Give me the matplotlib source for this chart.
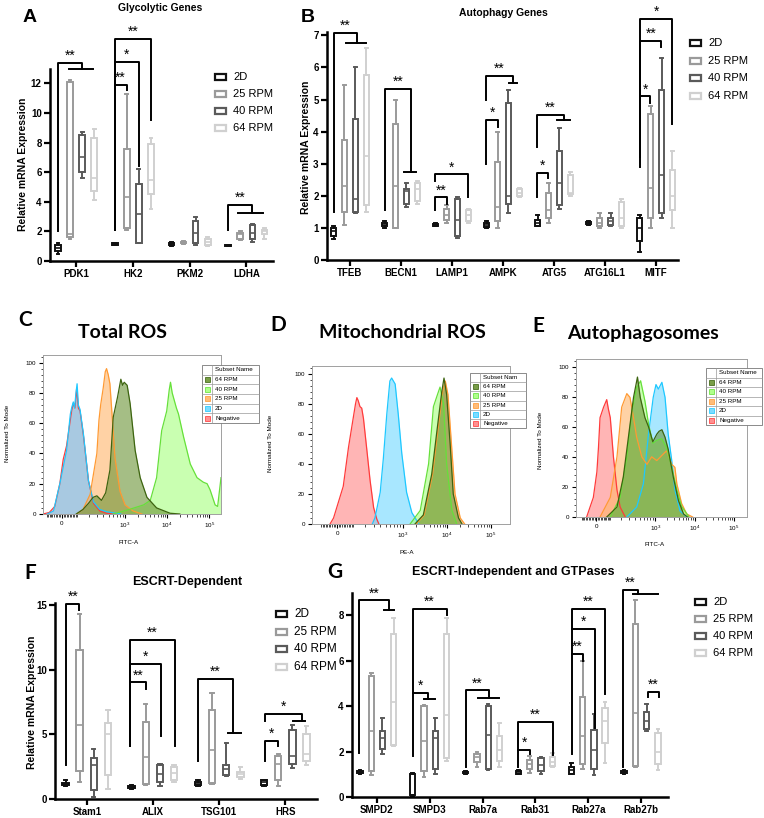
import numpy as np
import matplotlib
matplotlib.use('Agg')
import matplotlib.pyplot as plt
from matplotlib.patches import Rectangle
from matplotlib.ticker import MultipleLocator, FixedLocator

plt.rcParams['font.family'] = ['Liberation Sans', 'DejaVu Sans']
plt.rcParams['mathtext.default'] = 'regular'

# ---------------- data ----------------
group_labels = ['2D', '25 RPM', '40 RPM', '64 RPM']

# box stats: (whisker low, q1, median, q3, whisker high)
a_genes = ['PDK1', 'HK2', 'PKM2', 'LDHA']
a_2d = [(0.5, 0.65, 0.85, 1.1, 1.2), (1.05, 1.1, 1.15, 1.2, 1.25), (1.0, 1.1, 1.2, 1.25, 1.3), (1.0, 1.02, 1.05, 1.08, 1.1)]
a_25 = [(1.5, 1.6, 1.85, 12.1, 12.2), (2.1, 2.2, 4.3, 7.6, 11.3), (1.15, 1.2, 1.25, 1.3, 1.35), (1.4, 1.5, 1.8, 1.9, 2.0)]
a_40 = [(5.6, 6.0, 7.0, 8.5, 8.7), (1.2, 1.2, 3.2, 5.2, 6.2), (1.1, 1.2, 1.9, 2.7, 2.95), (1.3, 1.5, 1.9, 2.4, 2.5)]
a_64 = [(4.1, 4.7, 5.6, 8.3, 8.9), (3.5, 4.5, 5.5, 7.9, 8.3), (1.0, 1.1, 1.3, 1.5, 1.6), (1.5, 1.8, 2.0, 2.1, 2.2)]
# brackets: gene, x left, x right, y left, y top, y right, label, group bar
a_sig = [(0, -0.32, 0.10, 2.0, 13.4, 12.95, '**', (-0.12, 0.30)),
         (1, -0.32, -0.11, 2.1, 11.9, 11.55, '**', None),
         (1, -0.32, 0.11, 2.1, 13.45, 6.4, '*', None),
         (1, -0.32, 0.32, 2.1, 15.0, 9.5, '**', None),
         (3, -0.32, 0.10, 2.1, 3.8, 3.25, '**', (-0.14, 0.30))]

b_genes = ['TFEB', 'BECN1', 'LAMP1', 'AMPK', 'ATG5', 'ATG16L1', 'MITF']
b_2d = [(0.65, 0.75, 0.9, 1.0, 1.05), (1.0, 1.05, 1.1, 1.15, 1.2), (1.05, 1.07, 1.1, 1.12, 1.15),
        (1.0, 1.02, 1.1, 1.15, 1.2), (1.05, 1.05, 1.15, 1.25, 1.4), (1.1, 1.12, 1.15, 1.18, 1.2),
        (0.25, 0.6, 1.0, 1.3, 1.4)]
b_25 = [(1.1, 1.5, 2.3, 3.75, 5.45), (1.0, 1.0, 2.3, 4.25, 5.0), (1.15, 1.25, 1.4, 1.6, 1.7),
        (1.0, 1.2, 1.65, 3.05, 4.0), (1.15, 1.3, 1.55, 2.1, 2.4), (1.0, 1.05, 1.15, 1.3, 1.45),
        (1.0, 1.3, 2.25, 4.55, 4.8)]
b_40 = [(1.45, 1.5, 1.9, 4.4, 6.0), (1.65, 1.75, 2.15, 2.2, 2.4), (0.7, 0.75, 1.25, 1.9, 1.95),
        (1.45, 1.75, 2.0, 4.9, 5.3), (1.6, 1.7, 2.4, 3.4, 4.1), (1.05, 1.1, 1.2, 1.3, 1.45),
        (1.3, 1.45, 2.65, 5.3, 6.3)]
b_64 = [(1.5, 1.7, 3.25, 5.75, 6.6), (1.75, 1.85, 2.2, 2.4, 2.45), (1.15, 1.2, 1.4, 1.55, 1.6),
        (1.95, 2.0, 2.1, 2.2, 2.25), (2.0, 2.05, 2.1, 2.65, 2.75), (1.0, 1.05, 1.3, 1.8, 1.9),
        (1.0, 1.55, 2.0, 2.8, 3.4)]
b_sig = [(0, -0.31, 0.13, 1.5, 7.08, 6.76, '**', (-0.08, 0.31)),
         (1, -0.31, 0.19, 1.55, 5.34, 2.73, '**', (0.06, 0.29)),
         (2, -0.33, -0.10, 1.56, 1.95, 1.74, '**', None),
         (2, -0.33, 0.31, 2.45, 2.67, 1.97, '*', None),
         (3, -0.33, -0.10, 3.0, 4.36, 4.15, '*', None),
         (3, -0.33, 0.20, 5.0, 5.73, 5.5, '**', (0.12, 0.27)),
         (4, -0.34, -0.12, 1.97, 2.72, 2.54, '*', None),
         (4, -0.34, 0.20, 3.53, 4.53, 4.36, '**', (0.06, 0.31)),
         (6, -0.31, -0.12, 2.9, 5.1, 4.9, '*', None),
         (6, -0.31, 0.10, 3.2, 6.83, 6.62, '**', None),
         (6, -0.31, 0.31, 4.3, 7.52, 4.25, '*', None)]

f_genes = ['Stam1', 'ALIX', 'TSG101', 'HRS']
f_2d = [(1.0, 1.05, 1.15, 1.25, 1.5), (0.8, 0.85, 0.95, 1.0, 1.05), (1.0, 1.05, 1.15, 1.3, 1.5), (1.0, 1.1, 1.3, 1.45, 1.5)]
f_25 = [(1.35, 2.15, 5.75, 11.5, 14.3), (1.1, 1.15, 3.25, 5.95, 7.3), (1.15, 1.2, 3.8, 6.85, 8.2), (1.0, 1.5, 2.7, 3.35, 3.45)]
f_40 = [(0.15, 0.7, 2.6, 3.15, 3.85), (1.0, 1.35, 1.9, 2.6, 2.7), (1.75, 1.85, 2.3, 2.65, 4.35), (2.4, 2.7, 3.3, 5.3, 5.75)]
f_64 = [(0.8, 1.85, 5.0, 5.9, 6.9), (1.3, 1.45, 2.0, 2.5, 2.6), (1.55, 1.7, 1.95, 2.1, 2.5), (2.6, 2.9, 3.5, 5.0, 5.6)]
f_sig = [(0, -0.31, -0.11, 2.65, 15.05, 14.56, '**', None),
         (1, -0.35, -0.10, 4.07, 9.0, 8.5, '**', None),
         (1, -0.35, 0.12, 4.07, 10.45, 4.84, '*', None),
         (1, -0.35, 0.33, 4.07, 12.3, 4.07, '**', None),
         (2, -0.32, 0.21, 2.9, 9.26, 5.1, '**', (0.14, 0.33)),
         (3, -0.30, -0.11, 2.9, 4.5, 4.07, '*', None),
         (3, -0.30, 0.25, 6.0, 6.56, 6.0, '*', (0.12, 0.30))]

g_genes = ['SMPD2', 'SMPD3', 'Rab7a', 'Rab31', 'Rab27a', 'Rab27b']
g_2d = [(1.0, 1.05, 1.1, 1.15, 1.2), (0.05, 0.1, 0.1, 1.0, 1.05), (1.0, 1.05, 1.07, 1.1, 1.15),
        (1.0, 1.03, 1.1, 1.15, 1.2), (1.0, 1.0, 1.2, 1.3, 1.5), (1.0, 1.05, 1.1, 1.15, 1.2)]
g_25 = [(0.95, 1.15, 2.9, 5.35, 5.45), (0.9, 1.15, 2.45, 4.0, 4.05), (1.3, 1.55, 1.75, 1.9, 2.0),
        (1.05, 1.25, 1.45, 1.65, 1.8), (1.25, 1.45, 2.7, 4.4, 6.0), (1.3, 1.35, 3.7, 7.6, 8.7)]
g_40 = [(1.9, 2.1, 2.6, 2.9, 3.5), (1.0, 1.25, 2.6, 2.9, 3.5), (1.2, 1.25, 2.75, 4.0, 4.1),
        (1.0, 1.15, 1.4, 1.7, 1.75), (0.95, 1.25, 2.05, 2.95, 3.65), (2.9, 3.0, 3.35, 3.75, 4.1)]
g_64 = [(2.25, 2.3, 4.2, 7.2, 7.9), (1.6, 1.7, 3.6, 7.2, 7.9), (1.3, 1.6, 2.05, 2.7, 3.25),
        (1.3, 1.35, 1.55, 1.75, 1.95), (1.5, 2.4, 3.35, 3.9, 4.2), (1.2, 1.45, 2.0, 2.8, 3.0)]
g_sig = [(0, -0.33, 0.23, 1.94, 8.66, 8.25, '**', (0.14, 0.32)),
         (1, -0.32, -0.03, 1.8, 4.6, 4.3, '*', (-0.10, 0.10)),
         (1, -0.32, 0.32, 4.6, 8.3, 8.03, '**', None),
         (2, -0.32, 0.13, 1.32, 4.7, 4.37, '**', (-0.09, 0.31)),
         (3, -0.32, -0.10, 1.32, 2.09, 1.9, '*', None),
         (3, -0.32, 0.33, 2.09, 3.3, 1.84, '**', None),
         (4, -0.31, -0.09, 1.9, 6.31, 6.0, '**', None),
         (4, -0.31, 0.12, 6.31, 7.41, 3.05, '*', None),
         (4, -0.31, 0.32, 7.41, 8.27, 4.55, '**', None),
         (5, -0.35, -0.05, 1.32, 9.13, 8.96, '**', (-0.15, 0.33)),
         (5, 0.13, 0.34, 4.4, 4.63, 4.4, '**', None)]

# flow histograms: (display position, % of mode)
flow_labels = ['64 RPM', '40 RPM', '25 RPM', '2D', 'Negative']
c_neg = [(-0.45, 0), (-0.3, 1), (-0.17, 5), (-0.05, 20), (0.03, 36), (0.11, 45), (0.23, 68), (0.27, 73), (0.31, 70),
         (0.35, 83), (0.39, 70), (0.43, 68), (0.51, 52), (0.63, 22), (0.75, 7), (0.9, 2), (1.06, 0.5), (1.3, 0)]
c_2d = [(-0.35, 0), (-0.2, 2), (-0.05, 20), (0.11, 42), (0.2, 66), (0.23, 70), (0.27, 74), (0.3, 70), (0.33, 79),
        (0.36, 86), (0.39, 72), (0.43, 69), (0.51, 53), (0.63, 22), (0.75, 8), (0.9, 3), (1.06, 1.5), (1.4, 0)]
c_25 = [(0.35, 0), (0.5, 3), (0.67, 13), (0.83, 40), (0.88, 62), (0.92, 72), (0.98, 83), (1.03, 94), (1.06, 96),
        (1.1, 92), (1.14, 86), (1.18, 70), (1.26, 37), (1.38, 15), (1.5, 6), (1.69, 2), (1.9, 0)]
c_40 = [(1.21, 0), (1.6, 3), (1.94, 6), (2.1, 9), (2.25, 24), (2.37, 55), (2.49, 68), (2.55, 82), (2.58, 87),
        (2.62, 80), (2.65, 77), (2.72, 70), (2.77, 66), (2.89, 51), (3.05, 33), (3.21, 24), (3.36, 21), (3.45, 20),
        (3.52, 16), (3.64, 6), (3.7, 5), (3.78, 24)]
c_64 = [(0.34, 0), (0.5, 3), (0.63, 7), (0.74, 11), (0.83, 12), (0.94, 9), (1.04, 14), (1.14, 29), (1.22, 64),
        (1.32, 77), (1.4, 89), (1.44, 85), (1.48, 87), (1.55, 85), (1.62, 73), (1.74, 42), (1.86, 24), (2.02, 11),
        (2.25, 4), (2.57, 0.5), (2.8, 0)]

d_neg = [(-0.16, 0), (-0.08, 4), (0.14, 25), (0.26, 51), (0.37, 71), (0.42, 80), (0.45, 84), (0.48, 82), (0.52, 78),
         (0.56, 77), (0.6, 70), (0.67, 51), (0.75, 29), (0.83, 11), (0.9, 3.5), (0.95, 0)]
d_2d = [(0.8, 0), (0.86, 4), (0.98, 21), (1.05, 43), (1.13, 73), (1.2, 95), (1.24, 97), (1.28, 95), (1.32, 93),
        (1.39, 73), (1.47, 47), (1.58, 21), (1.7, 7.5), (1.86, 0)]
d_25 = [(1.8, 0), (1.98, 6), (2.17, 33), (2.29, 62), (2.4, 88), (2.46, 95), (2.52, 86), (2.6, 53), (2.68, 20),
        (2.8, 4), (2.9, 0)]
d_40 = [(1.66, 0), (1.89, 9), (2.08, 40), (2.19, 78), (2.27, 85), (2.34, 91), (2.42, 80), (2.49, 40), (2.61, 9),
        (2.72, 0)]
d_64 = [(1.77, 0), (1.96, 6), (2.15, 33), (2.27, 62), (2.38, 88), (2.43, 97), (2.49, 86), (2.57, 53), (2.64, 20),
        (2.76, 4), (2.84, 0)]

e_neg = [(-0.24, 0), (-0.07, 13), (0.02, 30), (0.06, 46), (0.1, 66), (0.19, 73), (0.27, 78), (0.31, 72), (0.36, 66),
         (0.44, 40), (0.53, 18), (0.61, 6.6), (0.74, 0)]
e_2d = [(0.78, 0), (1.03, 6.6), (1.2, 22), (1.33, 55), (1.45, 79.5), (1.52, 88), (1.58, 85), (1.67, 89.5),
        (1.75, 79.5), (1.83, 55), (1.92, 37.5), (2.0, 18), (2.13, 4), (2.3, 0)]
e_25 = [(0.1, 0), (0.36, 13), (0.53, 40), (0.65, 73), (0.78, 82), (0.86, 79.5), (0.95, 66), (1.03, 53), (1.16, 40),
        (1.29, 35), (1.41, 40), (1.54, 37.5), (1.71, 42), (1.79, 44), (1.92, 35), (2.0, 33), (2.05, 22), (2.17, 9),
        (2.3, 2), (2.45, 0)]
e_40 = [(0.36, 0), (0.61, 13), (0.78, 40), (0.91, 70.6), (1.03, 86), (1.13, 90.5), (1.24, 77), (1.33, 62),
        (1.44, 49), (1.54, 51), (1.67, 52), (1.79, 46), (1.92, 33), (2.05, 18), (2.17, 7), (2.36, 0)]
e_64 = [(0.27, 0), (0.53, 6.6), (0.69, 26.5), (0.82, 53), (0.95, 79.5), (1.05, 93), (1.12, 79.5), (1.24, 66),
        (1.33, 60), (1.44, 50), (1.54, 55), (1.6, 57), (1.67, 58), (1.75, 53), (1.83, 45), (1.96, 26.5),
        (2.09, 11), (2.22, 2), (2.32, 0)]

# ---------------- style ----------------
group_colors = ['#111111', '#9a9a9a', '#5a5a5a', '#d0d0d0']
offsets = [-0.32, -0.107, 0.107, 0.32]
# order: negative, 2D, 25, 40, 64  (edge, face)
flow_colors = [('#ff3b3b', '#ff8585'), ('#1ec8ff', '#6fd8ff'), ('#ff9a33', '#ffb56a'),
               ('#66e03a', '#a6ff7e'), ('#3d6410', '#6a9434')]

W, H = 764, 818
fig = plt.figure(figsize=(W / 100, H / 100), dpi=100)


def px_axes(x0, x1, y0, y1):
    return fig.add_axes([x0 / W, 1 - y1 / H, (x1 - x0) / W, (y1 - y0) / H])


def box_panel(ax, genes, groups, sig, yticks, spine_top, xlim, ylim):
    for vals, col, off in zip(groups, group_colors, offsets):
        stats = [dict(whislo=v[0], q1=v[1], med=v[2], q3=v[3], whishi=v[4]) for v in vals]
        ax.bxp(stats, positions=np.arange(len(genes)) + off, widths=0.1, capwidths=0.05,
               showfliers=False, manage_ticks=False, patch_artist=True,
               boxprops=dict(facecolor='none', edgecolor=col, linewidth=1.4),
               whiskerprops=dict(color=col, linewidth=1.4),
               capprops=dict(color=col, linewidth=1.4),
               medianprops=dict(color=col, linewidth=1.2))
    for g, xl, xr, yl, yt, yr, lab, bar in sig:
        ax.plot([g + xl, g + xl, g + xr, g + xr], [yl, yt, yt, yr], color='k', lw=1.4, clip_on=False)
        if bar:
            ax.plot([g + bar[0], g + bar[1]], [yr, yr], color='k', lw=1.4, clip_on=False)
        ax.text(g + (xl + xr) / 2, yt, lab, ha='center', va='bottom', fontsize=10, clip_on=False)
    ax.set_xlim(xlim)
    ax.set_ylim(ylim)
    ax.set_xticks(np.arange(len(genes)))
    ax.set_xticklabels(genes, fontweight='bold', fontsize=7)
    ax.set_yticks(yticks)
    ax.set_yticklabels([str(t) for t in yticks], fontweight='bold', fontsize=7)
    for s in ['top', 'right']:
        ax.spines[s].set_visible(False)
    ax.spines['left'].set_bounds(0, spine_top)
    ax.spines['left'].set_linewidth(1.8)
    ax.spines['bottom'].set_linewidth(1.8)
    ax.tick_params(direction='out', length=4, width=1.6, pad=2)
    ax.patch.set_alpha(0)


def biex(x):
    x = np.asarray(x, dtype=float)
    lin = 1.5 * np.arcsinh(x / 150) / np.arcsinh(1000 / 150)
    lg = 1.5 + np.log10(np.maximum(np.abs(x), 1) / 1000)
    return np.where(np.abs(x) < 1000, lin, lg)


minor_vals = [s * k * 10 for s in (-1, 1) for k in range(1, 10)] + \
             [s * k * 100 for s in (-1, 1) for k in range(1, 10)] + \
             [k * 10 ** d for d in (3, 4) for k in range(2, 10)]
minor_u = biex(minor_vals)


def flow_panel(ax, curves, xlim):
    for pts, (ec, fc) in zip(curves, flow_colors):
        u = [p[0] for p in pts]
        v = [p[1] for p in pts]
        ax.fill_between(u, v, color=fc, alpha=0.6, lw=0)
        ax.plot(u, v, color=ec, lw=0.9)
    ax.set_xlim(xlim)
    ax.set_ylim(0, 105)
    ax.set_xticks([0, 1.5, 2.5, 3.5])
    ax.set_xticklabels(['0', '$10^3$', '$10^4$', '$10^5$'])
    ax.xaxis.set_minor_locator(FixedLocator(minor_u[(minor_u > xlim[0]) & (minor_u < xlim[1])]))
    ax.set_yticks(range(0, 101, 20))
    ax.yaxis.set_minor_locator(MultipleLocator(4))
    ax.tick_params(labelsize=4.5, length=3, width=0.8, pad=2)
    ax.tick_params(which='minor', length=1.8, width=0.5)
    for s in ax.spines.values():
        s.set_color('#a0a0a0')
        s.set_linewidth(0.7)


# ---------------- panels ----------------
ax_a = px_axes(50, 273, 12, 261)
box_panel(ax_a, a_genes, [a_2d, a_25, a_40, a_64], a_sig, range(0, 13, 2), 13.0,
          (-0.46, 3.47), (0, 249 / 14.8))

ax_b = px_axes(327, 678, 10, 260)
box_panel(ax_b, b_genes, [b_2d, b_25, b_40, b_64], b_sig, range(0, 8), 7.1,
          (-0.45, 6.43), (0, 250 / 32.1))

ax_f = px_axes(55, 317, 590, 799)
box_panel(ax_f, f_genes, [f_2d, f_25, f_40, f_64], f_sig, [0, 5, 10, 15], 15.1,
          (-0.48, 3.48), (0, 209 / 12.95))

ax_g = px_axes(352, 668, 585, 797)
box_panel(ax_g, g_genes, [g_2d, g_25, g_40, g_64], g_sig, range(0, 9, 2), 9.0,
          (-0.47, 5.51), (0, 212 / 22.7))

ax_c = px_axes(43, 221, 355, 514)
flow_panel(ax_c, [c_neg, c_2d, c_25, c_40, c_64], (-0.45, 3.78))
ax_d = px_axes(312, 510, 366, 524)
flow_panel(ax_d, [d_neg, d_2d, d_25, d_40, d_64], (-0.57, 3.93))
ax_e = px_axes(576, 747, 359, 517)
flow_panel(ax_e, [e_neg, e_2d, e_25, e_40, e_64], (-0.51, 3.83))

# ---------------- overlay: labels, titles, legends ----------------
ov = fig.add_axes([0, 0, 1, 1], zorder=10)
ov.set_xlim(0, W)
ov.set_ylim(H, 0)
ov.axis('off')
ov.patch.set_alpha(0)

for lab, x, y in [('A', 30, 18), ('B', 308, 18)]:
    ov.text(x, y, lab, fontsize=14, fontweight='bold', ha='center', va='center')
for lab, x, y in [('C', 25, 320), ('D', 278, 325), ('E', 538, 326), ('F', 30, 573), ('G', 335, 572)]:
    ov.text(x, y, lab, fontsize=15, fontweight='bold', ha='center', va='center', family='Lato')

ov.text(160, 8, 'Glycolytic Genes', fontsize=7.5, fontweight='bold', ha='center', va='center')
ov.text(503, 13, 'Autophagy Genes', fontsize=7.5, fontweight='bold', ha='center', va='center')
ov.text(187, 582, 'ESCRT-Dependent', fontsize=9, fontweight='bold', ha='center', va='center')
ov.text(513, 572, 'ESCRT-Independent and GTPases', fontsize=9, fontweight='bold', ha='center', va='center')
for t, x in [('Total ROS', 122), ('Mitochondrial ROS', 402), ('Autophagosomes', 643)]:
    ov.text(x, 333, t, fontsize=14, fontweight='bold', ha='center', va='center', family='Lato')

for x, y in [(23, 164), (306, 147), (32, 702)]:
    ov.text(x, y, 'Relative mRNA Expression', fontsize=7.5, fontweight='bold', rotation=90,
            ha='center', va='center')
for x, y in [(8, 433), (270, 443), (540, 440)]:
    ov.text(x, y, 'Normalized To Mode', fontsize=4.5, rotation=90, ha='center', va='center')
for t, x, y in [('FITC-A', 129, 543), ('PE-A', 407, 552), ('FITC-A', 655, 545)]:
    ov.text(x, y, t, fontsize=4.5, ha='center', va='center')


def box_legend(x, y0, dy, size):
    for i, (lab, col) in enumerate(zip(group_labels, group_colors)):
        yy = y0 + i * dy
        ov.add_patch(Rectangle((x, yy - 3), 11, 6, fill=False, edgecolor=col, lw=1.6))
        ov.text(x + 18, yy, lab, va='center', fontsize=size)


box_legend(215, 77, 17, 8)
box_legend(690, 43, 17.6, 8)
box_legend(276, 614, 17.7, 8.5)
box_legend(695, 602, 17, 8)


def flow_table(x0, x1, y0, y1, header):
    rh = (y1 - y0) / 6
    ov.add_patch(Rectangle((x0, y0), x1 - x0, y1 - y0, facecolor='white', edgecolor='#777777', lw=0.6))
    for r in range(1, 6):
        ov.plot([x0, x1], [y0 + r * rh] * 2, color='#999999', lw=0.5)
    ov.plot([x0 + 10, x0 + 10], [y0, y1], color='#999999', lw=0.5)
    ov.text(x0 + 13, y0 + rh / 2, header, fontsize=4.5, va='center')
    for i, lab in enumerate(flow_labels):
        ec, fc = flow_colors[4 - i]
        yy = y0 + (i + 1.5) * rh
        ov.add_patch(Rectangle((x0 + 2.5, yy - 2.5), 5, 5, facecolor=fc, edgecolor=ec, lw=0.6, alpha=0.9))
        ov.text(x0 + 13, yy, lab, fontsize=4.5, va='center')


flow_table(202, 259, 365, 423, 'Subset Name')
flow_table(470, 526, 373, 428, 'Subset Nam')
flow_table(706, 762, 368, 425, 'Subset Name')

fig.savefig('out.png', dpi=100)
